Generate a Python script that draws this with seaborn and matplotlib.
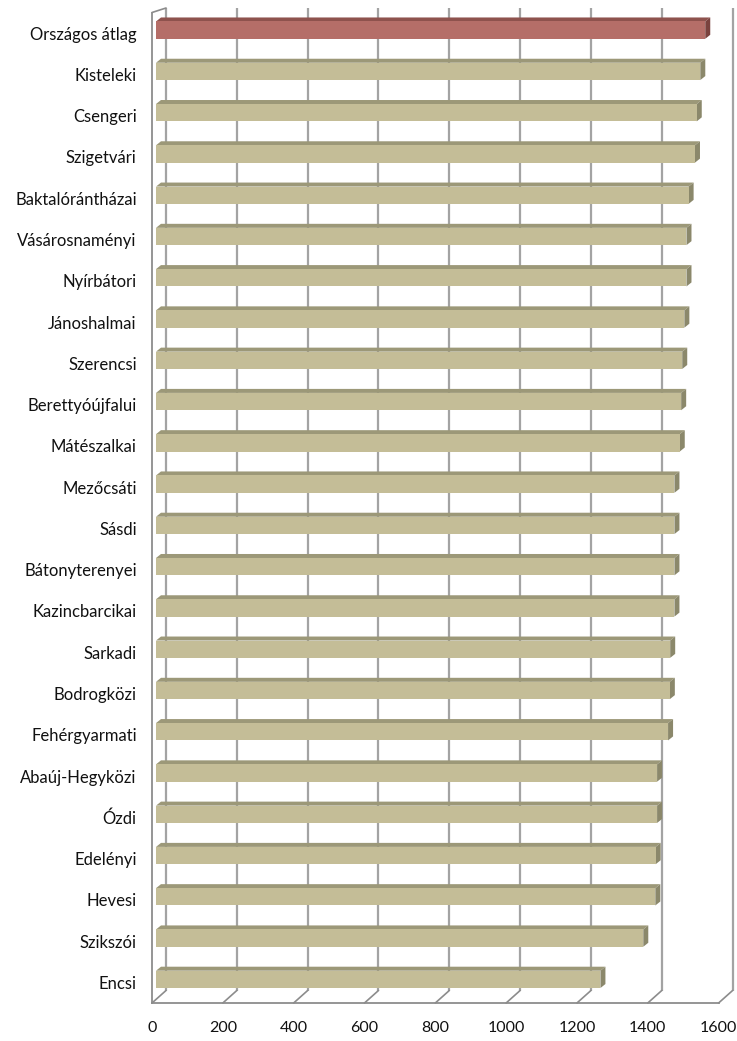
import numpy as np
import pandas as pd
import matplotlib
matplotlib.use("Agg")
import matplotlib.pyplot as plt
from matplotlib.transforms import ScaledTranslation
from matplotlib.patches import Polygon
import seaborn as sns

regions = ["Országos átlag", "Kisteleki", "Csengeri", "Szigetvári", "Baktalórántházai",
           "Vásárosnaményi", "Nyírbátori", "Jánoshalmai", "Szerencsi", "Berettyóújfalui",
           "Mátészalkai", "Mezőcsáti", "Sásdi", "Bátonyterenyei", "Kazincbarcikai",
           "Sarkadi", "Bodrogközi", "Fehérgyarmati", "Abaúj-Hegyközi", "Ózdi",
           "Edelényi", "Hevesi", "Szikszói", "Encsi"]
values = [1551, 1537, 1527, 1522, 1504,
          1498, 1498, 1492, 1486, 1483,
          1479, 1464, 1464, 1464, 1464,
          1452, 1451, 1446, 1415, 1415,
          1411, 1410, 1376, 1255]
xticks = [0, 200, 400, 600, 800, 1000, 1200, 1400, 1600]

FRONT_TAN, TOP_TAN, SIDE_TAN = "#C4BD97", "#9C9878", "#8B886B"
FRONT_RED, TOP_RED, SIDE_RED = "#B56E68", "#8E524D", "#7A423E"

sns.set_style("white")
plt.rcParams["font.family"] = ["Lato", "DejaVu Sans"]

W, H, DPI = 737, 1041, 100
fig = plt.figure(figsize=(W / DPI, H / DPI), dpi=DPI)

# background overlay in pixel coordinates (for 3D walls)
bg = fig.add_axes([0, 0, 1, 1], zorder=0)
bg.set_xlim(0, W)
bg.set_ylim(H, 0)
bg.axis("off")

left_px, right_px, top_px, bot_px = 152, 718.6, 12.5, 1003
ax = fig.add_axes([left_px / W, (H - bot_px) / H, (right_px - left_px) / W, (bot_px - top_px) / H], zorder=1)
ax.patch.set_visible(False)

df = pd.DataFrame({"region": regions, "value": values})
palette = {r: (FRONT_RED if i == 0 else FRONT_TAN) for i, r in enumerate(regions)}
sns.barplot(data=df, y="region", x="value", hue="region", palette=palette, orient="h",
            width=0.42, legend=False, ax=ax, saturation=1, edgecolor="none")

ax.set_xlim(0, 1600)
ax.set_ylim(len(regions) - 0.5, -0.5)
ax.set_xticks(xticks)
ax.set_xticklabels([str(v) for v in xticks])
ax.set_xlabel("")
ax.set_ylabel("")
for s in ["top", "right"]:
    ax.spines[s].set_visible(False)
for s in ["left", "bottom"]:
    ax.spines[s].set_color("#8c8c8c")
    ax.spines[s].set_linewidth(1.3)
ax.set_yticks(np.arange(len(regions) + 1) - 0.5, minor=True)
ax.tick_params(axis="y", which="major", length=0, pad=11, labelsize=12, labelcolor="#111111")
ax.tick_params(axis="y", which="minor", length=5, width=1.3, color="#8c8c8c", direction="out")
ax.tick_params(axis="x", which="major", length=4, width=1.3, color="#8c8c8c", pad=9,
               labelsize=11.5, labelcolor="#111111")
ax.grid(False)

# shift bars slightly into depth
shift = ScaledTranslation(4 / DPI, 3 / DPI, fig.dpi_scale_trans)
for p in ax.patches:
    p.set_transform(ax.transData + shift)

fig.canvas.draw()

# back wall gridlines and floor diagonals
DX, DY = 14, 12.5
back_top = 8
back_bot = bot_px - DY
for v in xticks:
    xd, _ = ax.transData.transform((v, 0))
    bg.plot([xd + DX, xd + DX], [back_top, back_bot], color="#a3a3a3", lw=1.6, zorder=1,
            solid_capstyle="butt")
    bg.plot([xd, xd + DX], [bot_px, back_bot], color="#8c8c8c", lw=1.2, zorder=1)
# top-left corner of left wall
bg.plot([left_px, left_px + DX], [top_px, back_top], color="#8c8c8c", lw=1.2, zorder=1)

# 3D faces on bars
bdx, bdy = 5, 4
for i, p in enumerate(ax.patches):
    bb = p.get_window_extent()
    x0, x1 = bb.x0, bb.x1
    yt, yb = H - bb.y1, H - bb.y0
    top_c = TOP_RED if i == 0 else TOP_TAN
    side_c = SIDE_RED if i == 0 else SIDE_TAN
    bg.add_patch(Polygon([(x0, yt), (x1, yt), (x1 + bdx, yt - bdy), (x0 + bdx, yt - bdy)],
                         closed=True, facecolor=top_c, edgecolor="none", zorder=3))
    bg.add_patch(Polygon([(x1, yt), (x1 + bdx, yt - bdy), (x1 + bdx, yb - bdy), (x1, yb)],
                         closed=True, facecolor=side_c, edgecolor="none", zorder=3))

fig.savefig("out.png", dpi=DPI)
